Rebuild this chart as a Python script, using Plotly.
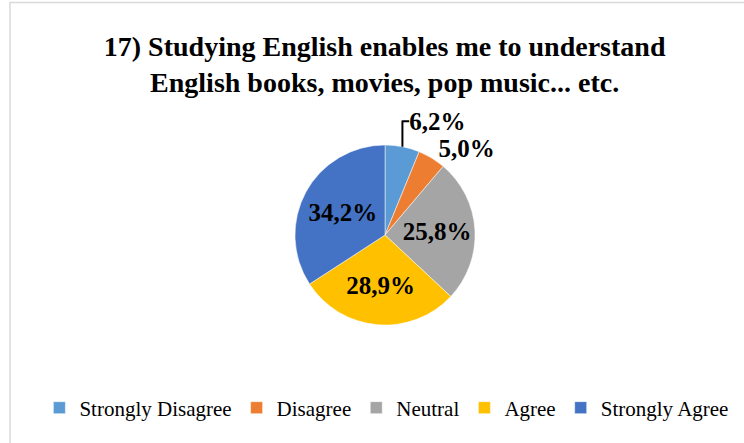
import plotly.graph_objects as go

categories = ["Strongly Disagree", "Disagree", "Neutral", "Agree", "Strongly Agree"]
values = [6.2, 5.0, 25.8, 28.9, 34.2]
colors = ["#5B9BD5", "#ED7D31", "#A5A5A5", "#FFC000", "#4472C4"]
label_pos = ["outside", "outside", "inside", "inside", "inside"]
title_text = "17) Studying English enables me to understand<br>English books, movies, pop music... etc."

texts = [f"{v:.1f}%".replace(".", ",") for v in values]

W, H = 744, 443
fig = go.Figure()
fig.add_trace(go.Pie(
    labels=categories,
    values=values,
    text=texts,
    textinfo="text",
    textposition=label_pos,
    insidetextorientation="horizontal",
    sort=False,
    direction="clockwise",
    rotation=0,
    marker=dict(colors=colors, line=dict(color="white", width=0.5)),
    textfont=dict(family="Liberation Serif", size=25, color="black", weight="bold"),
    domain=dict(x=[0.35, 0.685], y=[0.2663, 0.6727]),
    hoverinfo="label+percent",
))

fig.update_layout(
    width=W, height=H,
    margin=dict(l=0, r=0, t=0, b=0),
    paper_bgcolor="white",
    plot_bgcolor="white",
    title=dict(
        text="<b>" + title_text + "</b>",
        x=0.517, xanchor="center",
        y=1 - 56 / H, yanchor="middle",
        font=dict(family="Liberation Serif", size=28, color="black"),
    ),
    legend=dict(
        orientation="h",
        x=0.52, xanchor="center",
        y=1 - 408 / H, yanchor="middle",
        font=dict(family="Liberation Serif", size=21, color="black"),
        itemwidth=30,
        traceorder="normal",
    ),
    shapes=[
        dict(type="path", xref="paper", yref="paper",
             path=f"M {10/W} 0 L {10/W} {1-2.5/H} L 1 {1-2.5/H}",
             line=dict(color="#D9D9D9", width=1.5)),
    ],
)

fig.write_html("out.html")
